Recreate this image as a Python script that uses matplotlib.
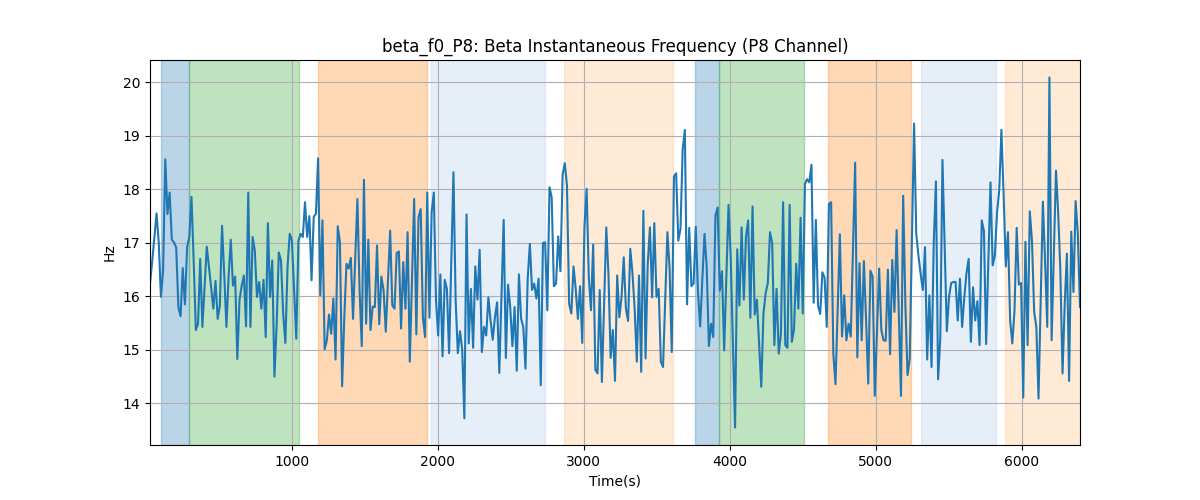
import numpy as np
import matplotlib
matplotlib.use('Agg')
import matplotlib.pyplot as plt

t_start = 27
t_end = 6400

hz_part1 = [16.24, 16.65, 17.10, 17.55, 17.01, 15.99, 16.48, 18.56, 17.54, 17.94, 17.06, 17.01, 16.91,
            15.80, 15.63, 16.53, 15.85, 16.92, 17.11, 17.86, 16.67, 15.37, 15.49, 16.70, 15.43, 16.17,
            16.93, 16.55, 16.17, 15.77, 16.29, 15.58, 15.83, 17.32, 16.42, 15.43, 16.36, 17.06, 16.20,
            16.37, 14.83, 15.93, 16.20, 16.39, 15.44, 17.94, 15.43, 17.11, 16.86, 15.99, 16.27, 15.77,
            16.31, 15.24, 17.37, 15.99, 16.67, 14.50, 15.46, 16.82, 16.67, 15.68, 15.13, 16.55, 17.17,
            17.04, 16.12, 15.21, 17.04, 17.17, 17.11, 17.76, 17.11, 17.50]
hz_part2 = [16.30, 17.49, 17.54, 18.58, 16.02, 17.42, 15.01, 15.18, 15.66, 15.30, 15.96, 14.82, 17.31,
            17.01, 14.32, 15.61, 16.61, 16.52, 16.72, 15.58, 16.70, 17.82, 16.11, 15.07, 18.18, 15.49,
            17.06, 15.37, 15.81, 15.80, 16.95, 15.48, 16.37, 16.11, 15.34, 16.29, 17.23, 15.83, 15.77,
            16.81, 16.84, 15.40, 16.64, 15.77, 17.20, 14.78, 16.30, 17.82, 15.29, 17.48, 17.63, 15.61,
            15.24, 17.94, 15.60, 17.57, 17.94, 15.93, 15.27, 16.41, 14.88, 16.31, 16.14, 14.94, 16.63,
            18.32, 15.93, 14.94, 15.35, 15.01, 13.72]
hz_part3 = [17.53, 15.12, 16.14, 15.04, 16.56, 15.94, 16.87, 14.96, 15.43, 15.27, 15.98, 15.55, 15.19,
            15.61, 15.89, 14.57, 16.00, 17.43, 14.85, 16.22, 15.80, 15.07, 15.80, 14.61, 16.41, 15.58,
            15.43, 14.65, 16.33, 16.98, 16.12, 16.24, 15.96, 16.33, 14.34, 17.00, 17.01, 15.74, 18.04,
            17.85, 16.19, 16.24, 17.12, 16.47, 18.27, 18.49, 18.07, 15.86, 15.68, 16.56, 16.14, 15.58,
            16.19, 15.13, 17.29, 18.01, 16.36, 15.74, 16.97, 14.63, 14.56, 16.12, 14.40, 15.85, 17.29,
            16.42, 14.85, 15.37, 14.42, 16.39, 15.61]
hz_part4 = [15.99, 16.73, 15.77, 15.54, 16.89, 16.43, 15.77, 14.78, 16.39, 14.59, 17.60, 14.84, 16.61,
            17.29, 15.98, 17.37, 15.99, 16.14, 14.78, 14.68, 15.94, 17.20, 16.52, 14.96, 18.24, 18.30,
            17.04, 17.26, 18.75, 19.11, 15.85, 17.28, 16.19, 16.24, 17.30, 16.08, 15.44, 16.30, 17.17,
            16.55, 15.07, 15.49, 15.24, 17.51, 17.66, 16.11, 16.47, 14.99, 16.35, 17.71, 16.73, 15.14,
            13.55, 16.88, 15.83, 17.29, 15.94, 17.12, 17.42, 15.60, 17.68, 15.66, 15.94, 15.12, 14.31,
            15.68, 16.06, 16.25, 17.20, 16.99, 15.09]
hz_part5 = [16.14, 14.93, 15.30, 17.76, 15.09, 15.04, 17.71, 15.15, 15.38, 16.61, 15.77, 17.47, 15.68,
            18.10, 18.19, 18.13, 18.46, 15.88, 17.43, 15.83, 15.67, 16.45, 16.35, 15.43, 17.73, 17.76,
            14.93, 14.36, 15.76, 17.16, 15.25, 16.02, 15.18, 15.49, 15.25, 16.88, 18.50, 14.86, 16.62,
            15.18, 16.66, 15.57, 14.37, 16.48, 16.37, 14.14, 15.33, 16.52, 15.37, 15.18, 15.17, 16.50,
            14.92, 16.68, 15.71, 17.24, 15.69, 14.14, 17.88, 15.86, 14.53, 14.84, 17.04, 19.23, 17.17,
            16.76, 16.42, 16.12, 16.92, 14.82, 16.02]
hz_part6 = [14.68, 16.99, 18.15, 14.45, 15.21, 18.55, 16.95, 15.35, 15.99, 16.25, 16.27, 16.27, 15.55,
            16.33, 15.43, 15.98, 16.43, 16.70, 15.15, 16.17, 15.55, 15.91, 15.09, 17.42, 17.22, 15.11,
            16.62, 18.13, 16.58, 16.76, 17.57, 17.98, 19.11, 17.91, 16.56, 17.20, 15.55, 15.12, 15.74,
            17.28, 16.22, 16.25, 14.11, 17.02, 15.09, 17.59, 17.04, 15.71, 15.43, 14.09, 15.93, 17.77,
            16.64, 15.43, 20.09, 15.18, 16.76, 18.35, 17.57, 16.48, 14.56, 15.86, 16.80, 14.42, 17.21,
            16.08, 17.78, 17.17, 15.80]

hz = hz_part1 + hz_part2 + hz_part3 + hz_part4 + hz_part5 + hz_part6
time = np.linspace(t_start, t_end, len(hz))

span_start = [103, 295, 1178, 1952, 2863, 3760, 3925, 4671, 5308, 5884]
span_end = [295, 1048, 1925, 2733, 3610, 3925, 4507, 5240, 5822, 6400]
span_color = ['tab:blue', 'tab:green', 'tab:orange', '#aec7e8', '#ffbb78',
              'tab:blue', 'tab:green', 'tab:orange', '#aec7e8', '#ffbb78']

fig = plt.figure(figsize=(12, 5))
for s, e, c in zip(span_start, span_end, span_color):
    plt.axvspan(s, e, color=c, alpha=0.3)
plt.plot(time, hz, color='tab:blue')
plt.xlim(time[0], time[-1])
plt.title("beta_f0_P8: Beta Instantaneous Frequency (P8 Channel)")
plt.xlabel("Time(s)")
plt.ylabel("Hz")
plt.grid(True)

plt.savefig('out.png', dpi=100)
